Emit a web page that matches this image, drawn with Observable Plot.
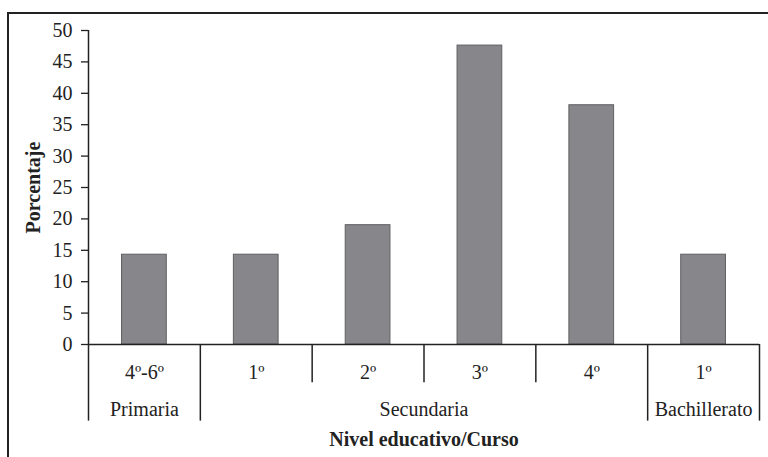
<!DOCTYPE html>
<html>
<head>
<meta charset="utf-8">
<script src="https://cdn.jsdelivr.net/npm/d3@7"></script>
<script src="https://cdn.jsdelivr.net/npm/@observablehq/plot@0.6"></script>
<style>
  html, body { margin: 0; padding: 0; background: #fff; overflow: hidden; }
  #wrap { position: relative; width: 768px; height: 457px; }
  #frame { position: absolute; left: 7px; top: 12px; width: 800px; height: 500px;
           border-top: 2.5px solid #222; border-left: 2.5px solid #222; }
  #chart { position: absolute; left: 0; top: 0; }
</style>
</head>
<body>
<div id="wrap"><div id="frame"></div><div id="chart"></div></div>
<script>
const categories = ["4º-6º", "1º", "2º", "3º", "4º", "1º"];
const groups = ["Primaria", "Secundaria", "Secundaria", "Secundaria", "Secundaria", "Bachillerato"];
const values = [14.3, 14.3, 19.0, 47.6, 38.1, 14.3];
const yTicks = [0, 5, 10, 15, 20, 25, 30, 35, 40, 45, 50];
const yTitle = "Porcentaje";
const xTitle = "Nivel educativo/Curso";

const data = categories.map((c, i) => ({i, cat: c, group: groups[i], value: values[i]}));

// contiguous group spans
const spans = [];
groups.forEach((g, i) => {
  const last = spans[spans.length - 1];
  if (last && last.group === g) last.end = i + 1;
  else spans.push({group: g, start: i, end: i + 1});
});
const boundaries = d3.range(categories.length + 1);
const groupEdges = new Set(spans.flatMap(s => [s.start, s.end]));

const font = "'Liberation Serif', 'Times New Roman', serif";
const ink = "#222";
const fs = 20;

const chart = Plot.plot({
  width: 768,
  height: 457,
  marginLeft: 88,
  marginRight: 9,
  marginTop: 30,
  marginBottom: 113,
  style: {fontFamily: font, fontSize: fs + "px", color: ink, background: "transparent", overflow: "visible"},
  x: {type: "linear", domain: [0, categories.length], axis: null},
  y: {domain: [0, 50], axis: null},
  marks: [
    Plot.rectY(data, {x1: d => d.i + 0.3, x2: d => d.i + 0.7, y: "value", fill: "#87878b", stroke: "#5f5f62", strokeWidth: 1}),
    Plot.axisY({ticks: yTicks, tickSize: 7, tickPadding: 9, fontSize: fs, stroke: ink, fill: ink, strokeWidth: 1.3, label: null}),
    Plot.ruleX([0], {y1: 0, y2: 50, stroke: ink, strokeWidth: 1.5}),
    Plot.ruleY([0], {x1: 0, x2: categories.length, stroke: ink, strokeWidth: 1.5}),
    Plot.ruleX(boundaries, {x: d => d, y1: 0, y2: d => groupEdges.has(d) ? -12.2 : -6.1, stroke: ink, strokeWidth: 1.5}),
    Plot.text(data, {x: d => d.i + 0.5, y: 0, text: "cat", dy: 28, fontSize: fs, fill: ink}),
    Plot.text(spans, {x: d => (d.start + d.end) / 2, y: 0, text: "group", dy: 65, fontSize: fs, fill: ink}),
    Plot.text([xTitle], {frameAnchor: "bottom", lineAnchor: "middle", textAnchor: "middle", dy: 95, fontSize: fs, fontWeight: "bold", fill: ink}),
    Plot.text([yTitle], {frameAnchor: "left", lineAnchor: "middle", textAnchor: "middle", dx: -55, rotate: -90, fontSize: fs, fontWeight: "bold", fill: ink})
  ]
});
document.getElementById("chart").appendChild(chart);
</script>
</body>
</html>
